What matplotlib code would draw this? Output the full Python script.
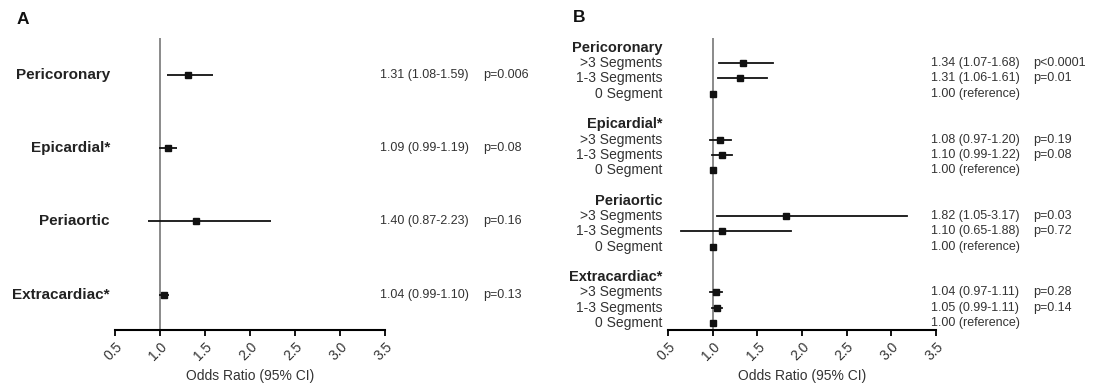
import matplotlib
matplotlib.use("Agg")
import matplotlib.pyplot as plt
import numpy as np

plt.rcParams['font.family'] = ['Liberation Sans', 'DejaVu Sans']

# ---- panel A data
a_labels = ["Pericoronary", "Epicardial*", "Periaortic", "Extracardiac*"]
a_or = [1.31, 1.09, 1.40, 1.04]
a_lo = [1.08, 0.99, 0.87, 0.99]
a_hi = [1.59, 1.19, 2.23, 1.10]
a_p = ["p=0.006", "p=0.08", "p=0.16", "p=0.13"]

# ---- panel B data
b_groups = ["Pericoronary", "Epicardial*", "Periaortic", "Extracardiac*"]
b_rows = [">3 Segments", "1-3 Segments", "0 Segment"]
b_or = [[1.34, 1.31, 1.00], [1.08, 1.10, 1.00], [1.82, 1.10, 1.00], [1.04, 1.05, 1.00]]
b_lo = [[1.07, 1.06, None], [0.97, 0.99, None], [1.05, 0.65, None], [0.97, 0.99, None]]
b_hi = [[1.68, 1.61, None], [1.20, 1.22, None], [3.17, 1.88, None], [1.11, 1.11, None]]
b_p = [["p<0.0001", "p=0.01", ""], ["p=0.19", "p=0.08", ""],
       ["p=0.03", "p=0.72", ""], ["p=0.28", "p=0.14", ""]]

xticks = [0.5, 1.0, 1.5, 2.0, 2.5, 3.0, 3.5]

W, H = 1097, 388
fig = plt.figure(figsize=(W / 100, H / 100), dpi=100)


def px_axes(x0, x1, ytop, ybot):
    return fig.add_axes([x0 / W, 1 - ybot / H, (x1 - x0) / W, (ybot - ytop) / H])


def style_axis(ax):
    for s in ["left", "top", "right"]:
        ax.spines[s].set_visible(False)
    ax.spines["bottom"].set_linewidth(1.5)
    ax.spines["bottom"].set_bounds(0.5, 3.5)
    ax.set_xlim(0.5, 3.5)
    ax.set_xticks(xticks)
    ax.set_xticklabels(["%.1f" % t for t in xticks], rotation=45, ha="right",
                       rotation_mode="anchor", fontsize=10, color="#333333")
    ax.tick_params(axis="x", direction="out", length=4, width=1.3, pad=3)
    ax.set_yticks([])
    ax.axvline(1.0, color="#777777", lw=1.2, zorder=1)
    ax.set_xlabel("Odds Ratio (95% CI)", fontsize=10, color="#333333", labelpad=4)


# ---- panel A
axA = px_axes(115, 385, 38, 330)
style_axis(axA)
ya = np.arange(len(a_labels))
axA.errorbar(a_or, ya, xerr=[np.array(a_or) - np.array(a_lo), np.array(a_hi) - np.array(a_or)],
             fmt="s", color="#111111", ms=5, lw=1.3, capsize=0, zorder=3)
axA.set_ylim(3.48, -0.5)
for i in range(len(a_labels)):
    axA.text(0.444, ya[i], a_labels[i], ha="right", va="center", fontsize=11,
             fontweight="bold", color="#222222", clip_on=False)
    axA.text(3.44, ya[i], "%.2f (%.2f-%.2f)" % (a_or[i], a_lo[i], a_hi[i]),
             ha="left", va="center", fontsize=9, color="#333333", clip_on=False)
    axA.text(4.59, ya[i], a_p[i], ha="left", va="center", fontsize=9,
             color="#333333", clip_on=False)

# ---- panel B
axB = px_axes(668, 936, 38, 330)
style_axis(axB)
for g in range(len(b_groups)):
    yh = g * 5
    axB.text(0.433, yh, b_groups[g], ha="right", va="center", fontsize=10.5,
             fontweight="bold", color="#222222", clip_on=False)
    for r in range(3):
        y = yh + 1 + r
        o = b_or[g][r]
        axB.text(0.433, y, b_rows[r], ha="right", va="center", fontsize=10,
                 color="#333333", clip_on=False)
        if b_lo[g][r] is not None:
            axB.plot([b_lo[g][r], b_hi[g][r]], [y, y], color="#111111", lw=1.3, zorder=2)
            axB.text(3.44, y, "%.2f (%.2f-%.2f)" % (o, b_lo[g][r], b_hi[g][r]),
                     ha="left", va="center", fontsize=9, color="#333333", clip_on=False)
            axB.text(4.59, y, b_p[g][r], ha="left", va="center", fontsize=9,
                     color="#333333", clip_on=False)
        else:
            axB.text(3.44, y, "%.2f (reference)" % o, ha="left", va="center",
                     fontsize=9, color="#333333", clip_on=False)
        axB.plot([o], [y], "s", color="#111111", ms=4.8, zorder=3)
axB.set_ylim(18.46, -0.65)

fig.text(17 / W, 1 - 19 / H, "A", fontsize=12.5, fontweight="bold", va="center", color="#111111")
fig.text(573 / W, 1 - 17 / H, "B", fontsize=12.5, fontweight="bold", va="center", color="#111111")

fig.savefig("out.png", dpi=100, facecolor="white")
